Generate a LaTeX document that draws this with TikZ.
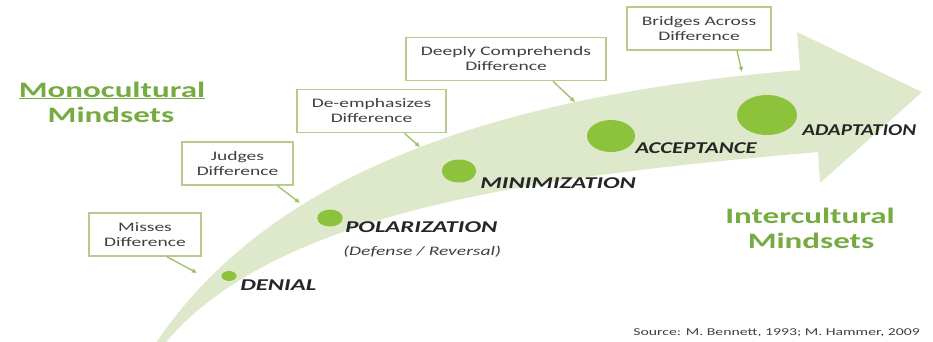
\documentclass[tikz,border=0pt]{standalone}
\usepackage{fontspec}
\setmainfont{Carlito}
\usetikzlibrary{arrows.meta}
\definecolor{dmisband}{RGB}{222,233,203}
\definecolor{dmisdot}{RGB}{141,195,60}
\definecolor{dmishead}{RGB}{118,171,66}
\definecolor{dmisline}{RGB}{183,204,138}
\definecolor{dmisarrow}{RGB}{160,190,100}
\definecolor{dmistext}{RGB}{64,64,64}

\begin{document}
\begin{tikzpicture}[x=1pt,y=-1pt,
  note/.style={draw=dmisline,line width=1.6pt,fill=white,text=dmistext,
    font=\fontsize{13}{15}\selectfont,align=center,inner xsep=10pt,
    minimum height=43pt,xscale=1.5},
  pointer/.style={dmisarrow,line width=1.3pt,-{Latex[length=5pt,width=5pt]}},
  stage/.style={anchor=base west,inner sep=0pt,xscale=#1,text=black!85,
    font=\fontsize{16.5}{18}\selectfont\bfseries\itshape},
  stage/.default=1.5,
  mindset/.style={anchor=base,inner sep=0pt,xscale=1.5,text=dmishead,
    font=\fontsize{22}{25}\selectfont\bfseries}]
  \useasboundingbox (0,0) rectangle (933,341);

  % curved band with its arrow head
  \fill[dmisband] (150,352) .. controls (260,180) and (480,97) .. (800,70)
    -- (797,32) -- (922,92) -- (820,183) -- (818,152)
    .. controls (560,175) and (270,205) .. (158,352) -- cycle;

  % stage dots, growing along the band
  \foreach \x/\y/\r in {229/276/5,330/218/8.5,459/171/11.5,611/136/16,767/115/20}
    \fill[dmisdot] (\x,\y) ellipse ({1.5*\r} and \r);

  \node[stage] (denial) at (240,290) {DENIAL};
  \node[stage] (polar) at (345,232) {POLARIZATION};
  \node[anchor=base west,inner sep=0pt,xscale=1.5,text=dmistext,
    font=\fontsize{13}{15}\selectfont\itshape] (defrev) at (343,255) {(Defense / Reversal)};
  \node[stage] (minim) at (480,188) {MINIMIZATION};
  \node[stage=1.38] (accept) at (635,153) {ACCEPTANCE};
  \node[stage=1.28] (adapt) at (802,135) {ADAPTATION};

  \node[mindset] (mono) at (112,97) {\underline{Monocultural}};
  \node[mindset] (monomind) at (111,122) {Mindsets};
  \node[mindset] (inter) at (810,223) {Intercultural};
  \node[mindset] (intermind) at (811,248) {Mindsets};

  \node[note] (misses) at (145,234.5) {Misses\\Difference};
  \node[note] (judges) at (237.5,163.5) {Judges\\Difference};
  \node[note] (deemph) at (371.5,111) {De-emphasizes\\Difference};
  \node[note] (deeply) at (506,59) {Deeply Comprehends\\Difference};
  \node[note] (bridges) at (699,28.5) {Bridges Across\\Difference};

  \coordinate (missesend) at (197,273);
  \coordinate (judgesend) at (300,203);
  \coordinate (deemphend) at (420,147);
  \coordinate (deeplyend) at (575,102);
  \coordinate (bridgesend) at (742,72);

  \draw[pointer] ([xshift=22pt]misses.south) -- (missesend);
  \draw[pointer] ([xshift=40pt]judges.south) -- (judgesend);
  \draw[pointer] ([xshift=33pt]deemph.south) -- (deemphend);
  \draw[pointer] ([xshift=47pt]deeply.south) -- (deeplyend);
  \draw[pointer] ([xshift=38pt]bridges.south) -- (bridgesend);

  \node[anchor=base east,inner sep=0pt,xscale=1.5,text=dmistext,
    font=\fontsize{10.5}{12}\selectfont] (source) at (920,335)
    {Source: M. Bennett, 1993; M. Hammer, 2009};
\end{tikzpicture}
\end{document}
